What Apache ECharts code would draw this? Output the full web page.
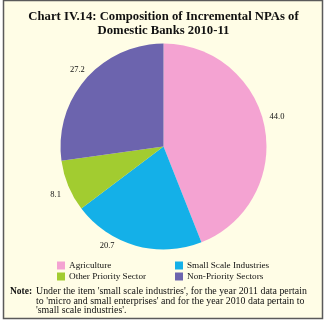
<!DOCTYPE html>
<html><head><meta charset="utf-8">
<script src="https://cdn.jsdelivr.net/npm/echarts@6/dist/echarts.min.js"></script>
<style>html,body{margin:0;padding:0;background:#fff}#c{width:327px;height:325px}</style>
</head><body><div id="c"></div>
<script>
const categories = ['Agriculture', 'Small Scale Industries', 'Other Priority Sector', 'Non-Priority Sectors'];
const values = [44.0, 20.7, 8.1, 27.2];
const colors = ['#f4a3d2', '#14b0e8', '#a2cc30', '#6c64ae'];
const titleText = 'Chart IV.14: Composition of Incremental NPAs of\nDomestic Banks 2010-11';
const noteLines = ["Under the item 'small scale industries', for the year 2011 data pertain",
  "to 'micro and small enterprises' and for the year 2010 data pertain to",
  "'small scale industries'."];
const labelShift = [[-3, -9], [-19, -8], [0, 6], [5, -4]];

const chart = echarts.init(document.getElementById('c'), null, {renderer: 'canvas'});
const serif = 'Liberation Serif';
chart.setOption({
  animation: false,
  backgroundColor: '#ffffff',
  graphic: [{
    type: 'rect', z: -10, silent: true,
    shape: {x: 3.5, y: 0.5, width: 319, height: 318},
    style: {fill: '#fffde6', stroke: '#5a5a5a', lineWidth: 1.5}
  }],
  title: [{
    text: titleText,
    left: 'center', top: 5,
    textStyle: {fontFamily: serif, fontWeight: 'bold', fontSize: 12.7, lineHeight: 13.5, color: '#111'}
  }, {
    text: '{b|Note:}{t|' + noteLines[0] + '}\n{i|}{t|' + noteLines[1] + '}\n{i|}{t|' + noteLines[2] + '}',
    left: 10, top: 287, padding: 0,
    textStyle: {
      fontFamily: serif, fontWeight: 'normal', fontSize: 9.9, lineHeight: 9.5, color: '#111',
      rich: {
        b: {fontFamily: serif, fontWeight: 'bold', fontSize: 9.5, color: '#111', width: 26},
        t: {fontFamily: serif, fontWeight: 'normal', fontSize: 9.9, color: '#111'},
        i: {width: 26}
      }
    }
  }],
  legend: [{
    data: [categories[0], categories[2]],
    orient: 'vertical', left: 52, top: 256,
    itemWidth: 8, itemHeight: 8, itemGap: 2,
    icon: 'rect',
    textStyle: {fontFamily: serif, fontSize: 9.2, color: '#111', padding: [0, 0, 0, -1]}
  }, {
    data: [categories[1], categories[3]],
    orient: 'vertical', left: 170, top: 256,
    itemWidth: 8, itemHeight: 8, itemGap: 2,
    icon: 'rect',
    textStyle: {fontFamily: serif, fontSize: 9.2, color: '#111', padding: [0, 0, 0, -1]}
  }],
  series: [{
    type: 'pie',
    center: [163.5, 146.5],
    radius: 103,
    startAngle: 90,
    clockwise: true,
    color: colors,
    data: categories.map((c, i) => ({name: c, value: values[i]})),
    label: {
      show: true, position: 'outside',
      formatter: p => p.value.toFixed(1),
      fontFamily: serif, fontSize: 8.5, color: '#111',
      distanceToLabelLine: 0
    },
    labelLine: {show: false, length: 8, length2: 0},
    labelLayout: p => ({dx: labelShift[p.dataIndex][0], dy: labelShift[p.dataIndex][1]}),
    itemStyle: {borderWidth: 0},
    emphasis: {disabled: true}
  }]
});
</script></body></html>
